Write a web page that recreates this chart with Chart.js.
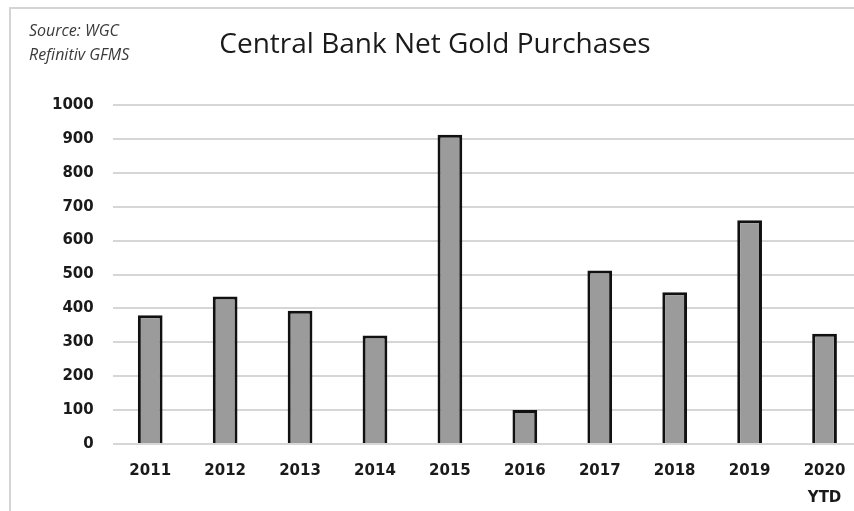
<!DOCTYPE html>
<html>
<head>
<meta charset="utf-8">
<script src="https://cdn.jsdelivr.net/npm/chart.js@4.4.1/dist/chart.umd.min.js"></script>
<style>
  html, body { margin: 0; padding: 0; background: #fff; }
  #wrap { position: relative; width: 854px; height: 511px; overflow: hidden; }
  #frame { position: absolute; left: 9px; top: 7px; width: 900px; height: 600px;
           border-left: 2px solid #d4d4d4; border-top: 2px solid #d4d4d4; }
  #chart { position: absolute; left: 0; top: 0; }
</style>
</head>
<body>
<div id="wrap">
  <div id="frame"></div>
  <canvas id="chart" width="862" height="520"></canvas>
</div>
<script>
// Valeurs (tonnes)
const years = ['2011', '2012', '2013', '2014', '2015', '2016', '2017', '2018', '2019', ['2020', 'YTD']];
const purchases = [380, 435, 393, 320, 912, 100, 512, 448, 660, 325];
const yTicks = [0, 100, 200, 300, 400, 500, 600, 700, 800, 900, 1000];
const chartTitle = 'Central Bank Net Gold Purchases';
const sourceLines = ['Source: WGC', 'Refinitiv GFMS'];

// Titre et texte de source dessinés à la main
const headerPlugin = {
    id: 'header',
    afterDraw(chart) {
        const ctx = chart.ctx;
        ctx.save();
        ctx.textBaseline = 'middle';
        ctx.fillStyle = '#1a1a1a';
        ctx.font = '28px "Open Sans"';
        ctx.textAlign = 'center';
        ctx.fillText(chartTitle, 435, 45);
        ctx.font = 'italic 16px "Open Sans"';
        ctx.fillStyle = '#3a3a3a';
        ctx.textAlign = 'left';
        ctx.fillText(sourceLines[0], 29, 31);
        ctx.fillText(sourceLines[1], 29, 55);
        ctx.restore();
    }
};

new Chart(document.getElementById('chart'), {
    type: 'bar',
    data: {
        labels: years,
        datasets: [{
            data: purchases,
            backgroundColor: '#9b9b9b',
            borderColor: '#111111',
            borderWidth: 3,
            categoryPercentage: 1,
            barPercentage: 0.33
        }]
    },
    options: {
        responsive: false,
        animation: false,
        layout: { padding: { top: 105, left: 33, right: 0, bottom: 2 } },
        plugins: {
            legend: { display: false },
            tooltip: { enabled: false },
            title: { display: false }
        },
        scales: {
            x: {
                grid: { display: false },
                border: { display: false },
                ticks: {
                    color: '#1a1a1a',
                    padding: 6,
                    font: { family: 'DejaVu Sans', size: 15, weight: 'bold', lineHeight: 1.8 }
                }
            },
            y: {
                min: 0,
                max: 1000,
                afterBuildTicks(axis) {
                    axis.ticks = yTicks.map(v => ({ value: v }));
                },
                grid: { color: '#d6d6d6', lineWidth: 2, drawTicks: false },
                border: { display: false },
                ticks: {
                    color: '#1a1a1a',
                    padding: 19,
                    callback: v => String(v),
                    font: { family: 'DejaVu Sans', size: 15, weight: 'bold' }
                }
            }
        }
    },
    plugins: [headerPlugin]
});
</script>
</body>
</html>
